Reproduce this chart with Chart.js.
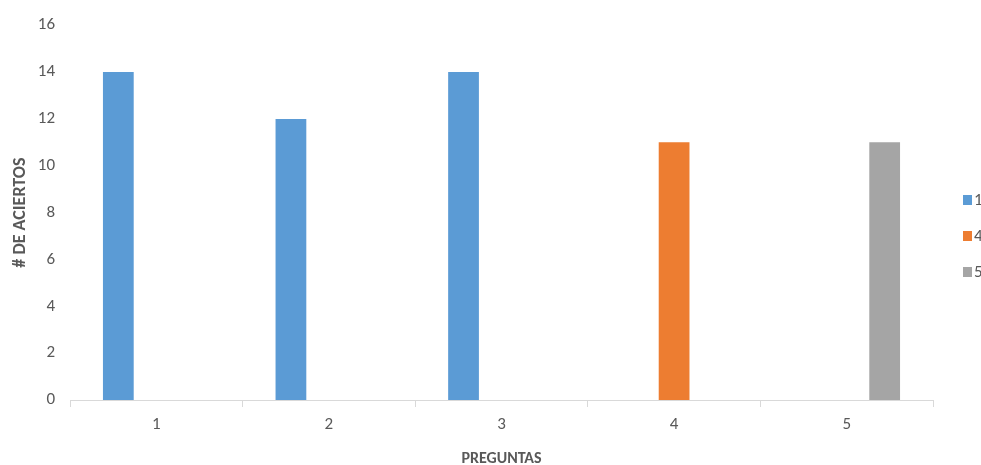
<!DOCTYPE html>
<html>
<head>
<meta charset="utf-8">
<script src="https://cdn.jsdelivr.net/npm/chart.js@4/dist/chart.umd.min.js"></script>
<style>
  html, body { margin: 0; padding: 0; background: #ffffff; overflow: hidden; }
  #wrap { width: 981px; height: 465px; }
</style>
</head>
<body>
<div id="wrap"><canvas id="c" width="981" height="465"></canvas></div>
<script>
// Categories (question numbers) and correct answers per series
const preguntas = ['1', '2', '3', '4', '5'];
const serie1 = [14, 12, 14, null, null];
const serie4 = [null, null, null, 11, null];
const serie5 = [null, null, null, null, 11];
const seriesNames = ['1', '4', '5'];
const seriesColors = ['#5b9bd5', '#ed7d31', '#a5a5a5'];

const FONT = 'Carlito, Lato, sans-serif';
const TEXT = '#595959';

// Side legend: small squares with labels, stacked vertically
const sideLegend = {
  id: 'sideLegend',
  afterDraw(chart) {
    const ctx = chart.ctx;
    const ds = chart.data.datasets;
    const x = 963, y0 = 200, step = 36, box = 9;
    ctx.save();
    ctx.font = '17px ' + FONT;
    ctx.textBaseline = 'middle';
    ctx.textAlign = 'left';
    ds.forEach((d, i) => {
      const y = y0 + i * step;
      ctx.fillStyle = d.backgroundColor;
      ctx.fillRect(x, y - 5, box, 10);
      ctx.fillStyle = TEXT;
      ctx.fillText(d.label, x + box + 2, y + 1);
    });
    ctx.restore();
  }
};

new Chart(document.getElementById('c'), {
  type: 'bar',
  data: {
    labels: preguntas,
    datasets: [
      { label: seriesNames[0], data: serie1, backgroundColor: seriesColors[0] },
      { label: seriesNames[1], data: serie4, backgroundColor: seriesColors[1] },
      { label: seriesNames[2], data: serie5, backgroundColor: seriesColors[2] }
    ]
  },
  options: {
    responsive: false,
    animation: false,
    devicePixelRatio: 1,
    layout: { padding: { top: 15.8, right: 48, bottom: 0, left: 10 } },
    datasets: { bar: { categoryPercentage: 0.66, barPercentage: 0.81 } },
    plugins: {
      legend: { display: false },
      tooltip: { enabled: false }
    },
    scales: {
      x: {
        afterFit(scale) { scale.height = 65; },
        grid: {
          display: true,
          drawOnChartArea: false,
          drawTicks: true,
          tickLength: 7,
          color: '#d9d9d9'
        },
        border: { display: true, color: '#d9d9d9', width: 1 },
        ticks: { color: TEXT, font: { family: FONT, size: 17 }, padding: 8 },
        title: {
          display: true,
          text: 'PREGUNTAS',
          color: TEXT,
          font: { family: FONT, size: 16, weight: 'bold', lineHeight: 1 },
          padding: { top: 10, bottom: -2 }
        }
      },
      y: {
        afterFit(scale) { scale.width = 60; },
        min: 0,
        max: 16,
        ticks: { stepSize: 2, color: TEXT, font: { family: FONT, size: 17 }, padding: 15 },
        grid: { display: false, drawTicks: false },
        border: { display: false },
        title: {
          display: true,
          text: '# DE ACIERTOS',
          color: TEXT,
          font: { family: FONT, size: 18, weight: 'bold', lineHeight: 1 },
          padding: { top: 1, bottom: 6 }
        }
      }
    }
  },
  plugins: [sideLegend]
});
</script>
</body>
</html>
